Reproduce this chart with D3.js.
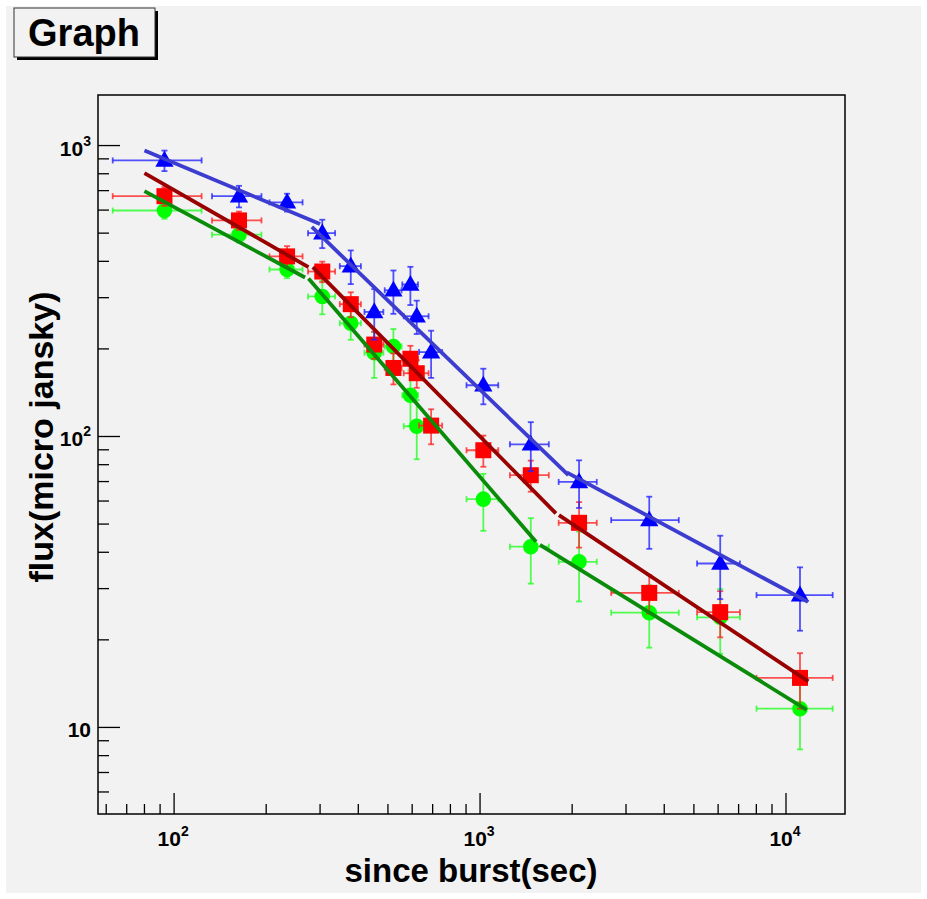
<!DOCTYPE html>
<html>
  <head>
    <title>Graph</title>
    <script src="https://d3js.org/d3.v7.min.js"></script>
    <style>
      body { margin: 0; background: #ffffff; }
      text { font-family: "Liberation Sans", Arial, Helvetica, sans-serif; font-weight: bold; }
    </style>
  </head>
  <body>
  </body>
  <script>

var thewidth = 927;
var theheight = 899;

// time since burst (sec) and half-width of each bin
var times    = [93, 163, 234, 305, 378, 451, 521, 592, 621, 692, 1025, 1465, 2107, 3573, 6095, 11110];
var timeErrs = [30, 30, 29, 31, 30, 32, 33, 35, 58, 60, 122, 213, 300, 890, 975, 3100];

// flux in micro jansky, null where the band has no point
var blueFlux  = [889, 670, 638, 500, 385, 268, 318, 333, 259, 195, 150, 94, 69.8, 51.6, 36.6, 28.5];
var blueErrs  = [72, 57, 45, 56, 51, 53, 54, 50, 34, 36, 21, 18, 13, 10.5, 9, 7];
var redFlux   = [670, 553, 416, 369, 285, 207, 172, 185, 165, 109, 89.7, 73.6, 50.5, 29.0, 24.9, 14.8];
var redErrs   = [50, 40, 35, 30, 28, 22, 21, 20, 18, 15, 11, 9, 9, 4.4, 4.5, 3.2];
var greenFlux = [598, 494, 375, 303, 245, 194, 204, 138.6, 108.5, null, 60.9, 41.8, 37.1, 24.8, 23.9, 11.6];
var greenErrs = [38, 30, 25, 40, 30, 35, 30, 30, 25, null, 13.5, 10.6, 10, 6, 6, 3.2];

// broken power law fits: [t start, flux start, t end, flux end] per piece
var blueFit  = [[80, 961, 300, 537], [282, 525, 1944, 73.6], [1920, 75.3, 11800, 27.0]];
var redFit   = [[80, 804, 275, 382], [284, 382, 1770, 54.4], [1811, 53.7, 11830, 14.4]];
var greenFit = [[80, 697, 268, 352], [275, 349, 1524, 43.5], [1570, 42.4, 11690, 11.5]];

var xMajor = [100, 1000, 10000];
var yMajor = [10, 100, 1000];

var svg = d3.select("body").append("svg")
            .attr("width", thewidth)
            .attr("height", theheight);

svg.append("rect")
   .attr("x", 6).attr("y", 6)
   .attr("width", thewidth - 12).attr("height", theheight - 12)
   .attr("fill", "#f2f2f2");

var x = d3.scaleLog().domain([56.4, 15590]).range([98, 845]);
var y = d3.scaleLog().domain([5.04, 1492]).range([814, 95]);

// minor ticks 2..9 in every decade that falls inside the frame
function logTicks(scale) {
    var d = scale.domain();
    var out = [];
    for (var e = Math.floor(Math.log10(d[0])); e <= Math.ceil(Math.log10(d[1])); e++) {
        for (var m = 1; m <= 9; m++) {
            var v = m * Math.pow(10, e);
            if (v >= d[0] && v <= d[1]) out.push({v: v, major: m == 1});
        }
    }
    return out;
}

var axisG = svg.append("g").attr("stroke", "#000").attr("stroke-width", 1.3);

axisG.selectAll("line.xt")
     .data(logTicks(x))
     .enter().append("line")
     .attr("x1", function(d) { return x(d.v); })
     .attr("x2", function(d) { return x(d.v); })
     .attr("y1", 814)
     .attr("y2", function(d) { return d.major ? 793 : 804; });

axisG.selectAll("line.yt")
     .data(logTicks(y))
     .enter().append("line")
     .attr("y1", function(d) { return y(d.v); })
     .attr("y2", function(d) { return y(d.v); })
     .attr("x1", 98)
     .attr("x2", function(d) { return d.major ? 120 : 109; });

svg.append("rect")
   .attr("x", 98).attr("y", 95)
   .attr("width", 747).attr("height", 719)
   .attr("fill", "none")
   .attr("stroke", "#000")
   .attr("stroke-width", 1.5);

// tick labels like 10^2
function powLabel(sel, v) {
    var e = Math.round(Math.log10(v));
    sel.append("tspan").text("10");
    if (e != 1) {
        sel.append("tspan").attr("font-size", 14).attr("dy", -10).text(e);
    }
}

xMajor.forEach(function(v) {
    var t = svg.append("text")
               .attr("x", x(v) - 1).attr("y", 846)
               .attr("text-anchor", "middle")
               .attr("font-size", 21);
    powLabel(t, v);
});

yMajor.forEach(function(v) {
    var t = svg.append("text")
               .attr("x", 91).attr("y", y(v) + 10)
               .attr("text-anchor", "end")
               .attr("font-size", 21);
    powLabel(t, v);
});

svg.append("text")
   .attr("x", 471).attr("y", 882)
   .attr("text-anchor", "middle")
   .attr("font-size", 33)
   .text("since burst(sec)");

svg.append("text")
   .attr("transform", "translate(53,437) rotate(-90)")
   .attr("text-anchor", "middle")
   .attr("font-size", 34)
   .text("flux(micro jansky)");

// title box
svg.append("rect")
   .attr("x", 17).attr("y", 11).attr("width", 141).attr("height", 49)
   .attr("fill", "#000");
svg.append("rect")
   .attr("x", 14).attr("y", 8).attr("width", 141).attr("height", 49)
   .attr("fill", "#f2f2f2")
   .attr("stroke", "#333")
   .attr("stroke-width", 1);
svg.append("text")
   .attr("x", 84).attr("y", 46)
   .attr("text-anchor", "middle")
   .attr("font-size", 38)
   .text("Graph");

var series = [
    {flux: greenFlux, errs: greenErrs, marker: "#00ff00", bar: "#22ff22", shape: d3.symbolCircle, size: 190},
    {flux: redFlux,   errs: redErrs,   marker: "#ff0000", bar: "#ff2222", shape: d3.symbolSquare, size: 256},
    {flux: blueFlux,  errs: blueErrs,  marker: "#0000ff", bar: "#2222ff", shape: d3.symbolTriangle, size: 145}
];

var cap = 3;

series.forEach(function(s) {
    var pts = [];
    s.flux.forEach(function(f, i) {
        if (f != null) pts.push({t: times[i], te: timeErrs[i], f: f, fe: s.errs[i]});
    });

    var g = svg.append("g")
               .attr("stroke", s.bar)
               .attr("stroke-width", 1.8)
               .attr("stroke-opacity", 0.78);

    g.selectAll("line.h").data(pts).enter().append("line")
     .attr("x1", function(d) { return x(d.t - d.te); })
     .attr("x2", function(d) { return x(d.t + d.te); })
     .attr("y1", function(d) { return y(d.f); })
     .attr("y2", function(d) { return y(d.f); });
    g.selectAll("line.v").data(pts).enter().append("line")
     .attr("x1", function(d) { return x(d.t); })
     .attr("x2", function(d) { return x(d.t); })
     .attr("y1", function(d) { return y(d.f - d.fe); })
     .attr("y2", function(d) { return y(d.f + d.fe); });

    // end caps
    [-1, 1].forEach(function(sgn) {
        g.selectAll("line.ch" + sgn).data(pts).enter().append("line")
         .attr("x1", function(d) { return x(d.t + sgn * d.te); })
         .attr("x2", function(d) { return x(d.t + sgn * d.te); })
         .attr("y1", function(d) { return y(d.f) - cap; })
         .attr("y2", function(d) { return y(d.f) + cap; });
        g.selectAll("line.cv" + sgn).data(pts).enter().append("line")
         .attr("y1", function(d) { return y(d.f + sgn * d.fe); })
         .attr("y2", function(d) { return y(d.f + sgn * d.fe); })
         .attr("x1", function(d) { return x(d.t) - cap; })
         .attr("x2", function(d) { return x(d.t) + cap; });
    });

    svg.append("g").selectAll("path").data(pts).enter().append("path")
       .attr("d", d3.symbol().type(s.shape).size(s.size))
       .attr("transform", function(d) {
           var dy = s.shape === d3.symbolTriangle ? 1 : 0;
           return "translate(" + x(d.t) + "," + (y(d.f) + dy) + ")";
       })
       .attr("fill", s.marker);
});

var fits = [
    {segs: greenFit, color: "#0a8c0a"},
    {segs: redFit,   color: "#990000"},
    {segs: blueFit,  color: "#3c3cd0"}
];

fits.forEach(function(f) {
    svg.append("g").selectAll("line").data(f.segs).enter().append("line")
       .attr("x1", function(d) { return x(d[0]); })
       .attr("y1", function(d) { return y(d[1]); })
       .attr("x2", function(d) { return x(d[2]); })
       .attr("y2", function(d) { return y(d[3]); })
       .attr("stroke", f.color)
       .attr("stroke-width", 3.8);
});

  </script>
</html>
